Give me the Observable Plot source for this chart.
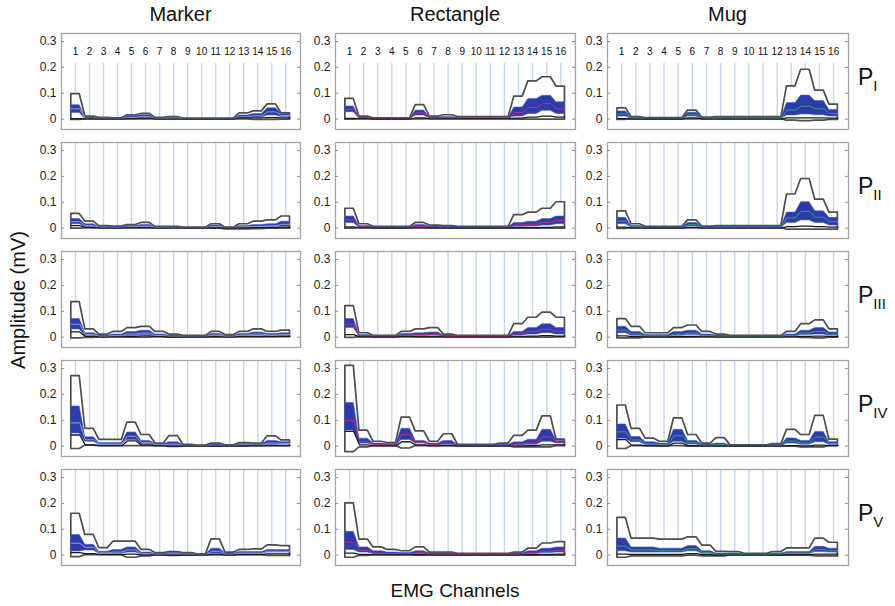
<!DOCTYPE html>
<html><head><meta charset="utf-8">
<script src="https://cdn.jsdelivr.net/npm/d3@7"></script>
<script src="https://cdn.jsdelivr.net/npm/@observablehq/plot@0.6"></script>
<style>
body{margin:0;background:#fff;font-family:"Liberation Sans",Arial,sans-serif;}
#root{position:relative;width:895px;height:606px;overflow:hidden;background:#fff}
.panel{position:absolute}
.t{position:absolute;color:#111;white-space:nowrap;transform:translate(-50%,-50%);line-height:1}
</style></head><body><div id="root"></div>
<script>
const objects = ["Marker", "Rectangle", "Mug"];
const subjects = ["I", "II", "III", "IV", "V"];
const channels = [1,2,3,4,5,6,7,8,9,10,11,12,13,14,15,16];
const yTicks = [0, 0.1, 0.2, 0.3];
const yTickLabels = ["0", "0.1", "0.2", "0.3"];

// ---- Marker ----
const maxMarker = [
 [0.097,0.01,0.005,0.003,0.015,0.02,0.005,0.008,0.002,0.002,0.002,0.002,0.022,0.03,0.057,0.022],
 [0.055,0.025,0.008,0.006,0.012,0.02,0.005,0.005,0.002,0.002,0.015,0.002,0.015,0.025,0.03,0.045],
 [0.135,0.03,0.01,0.02,0.035,0.04,0.02,0.01,0.005,0.005,0.02,0.008,0.02,0.03,0.02,0.025],
 [0.271,0.067,0.024,0.024,0.091,0.043,0.01,0.039,0.005,0.002,0.01,0.003,0.012,0.01,0.038,0.022],
 [0.16,0.078,0.027,0.052,0.052,0.02,0.008,0.012,0.008,0.003,0.061,0.01,0.02,0.022,0.038,0.035]];
const hiMarker = [
 [0.054,0.006,0.003,0.002,0.012,0.015,0.004,0.006,0.001,0.001,0.001,0.001,0.014,0.02,0.042,0.02],
 [0.035,0.015,0.005,0.004,0.008,0.012,0.003,0.003,0.001,0.001,0.01,0.001,0.008,0.012,0.015,0.025],
 [0.07,0.015,0.006,0.01,0.02,0.025,0.01,0.006,0.003,0.003,0.012,0.004,0.012,0.018,0.012,0.015],
 [0.153,0.034,0.012,0.012,0.053,0.02,0.008,0.015,0.003,0.001,0.006,0.002,0.008,0.007,0.02,0.015],
 [0.078,0.04,0.013,0.02,0.03,0.01,0.005,0.008,0.005,0.002,0.025,0.006,0.012,0.012,0.02,0.02]];
const loMarker = [
 [0.024,0.001,0,0,0.003,0.005,0.001,0.002,0,0,0,0,0.004,0.006,0.014,0.008],
 [0.015,0.005,0.001,0.001,0.002,0.004,0.001,0.001,0,0,0.003,0,0.002,0.003,0.004,0.006],
 [0.03,0.005,0.001,0.002,0.005,0.008,0.003,0.001,0,0,0.004,0.001,0.004,0.006,0.004,0.005],
 [0.049,0.017,0.005,0.005,0.024,0.008,0.002,0.002,0,0,0.001,0,0.002,0.002,0.005,0.006],
 [0.014,0.018,0.005,0.005,0.01,0.003,0.001,0.002,0.001,0,0.005,0.001,0.003,0.004,0.01,0.01]];
const meanMarker = [
 [0.04,0.003,0.001,0.001,0.007,0.01,0.002,0.004,0.001,0.001,0.001,0.001,0.009,0.013,0.028,0.014],
 [0.025,0.01,0.003,0.002,0.005,0.008,0.002,0.002,0.001,0.001,0.006,0.001,0.005,0.007,0.009,0.015],
 [0.05,0.01,0.003,0.006,0.012,0.016,0.006,0.003,0.001,0.001,0.008,0.002,0.008,0.012,0.008,0.01],
 [0.09,0.025,0.008,0.008,0.038,0.014,0.005,0.008,0.001,0.001,0.003,0.001,0.005,0.004,0.012,0.01],
 [0.046,0.03,0.009,0.012,0.02,0.006,0.003,0.005,0.003,0.001,0.015,0.003,0.008,0.008,0.015,0.015]];
const lowMarker = [
 [0.002,0.001,0,0,0.002,0.004,0,0,0,0,0,0,0.005,0.005,0.006,0.005],
 [0.01,0.003,0,0,0.001,0.002,0,0,0,0,0.001,0,0.001,0.002,0.002,0.004],
 [0.02,0.003,0,0.001,0.003,0.005,0.002,0,0,0,0.002,0,0.002,0.003,0.002,0.003],
 [0.043,0.005,0.002,0.002,0.02,0.005,0.001,0,0,0,0,0,0.001,0.001,0.002,0.002],
 [0.01,0.006,0.002,0.002,0.004,0.001,0,0,0,0,0.002,0,0.002,0.002,0.005,0.005]];
const minMarker = [
 [-0.003,-0.001,0,0,-0.001,-0.001,0,0,0,0,0,0,-0.001,-0.003,-0.003,-0.002],
 [-0.002,-0.001,0,0,0,-0.001,0,0,0,0,-0.002,-0.005,-0.005,-0.004,-0.002,-0.002],
 [-0.005,-0.003,0,0,-0.002,-0.002,0,-0.002,0,0,-0.001,0,0,-0.001,0,0],
 [-0.011,0.002,0,0,0,0,0,-0.003,0,0,-0.002,0,-0.001,0,0,0],
 [-0.008,0,0,0,-0.01,-0.005,0,-0.003,-0.002,0,0,0,0,0,-0.003,-0.003]];

// ---- Rectangle ----
const maxRectangle = [
 [0.078,0.01,0.003,0.003,0.003,0.054,0.01,0.015,0.008,0.008,0.008,0.008,0.087,0.146,0.162,0.126],
 [0.075,0.015,0.005,0.005,0.005,0.02,0.01,0.008,0.005,0.005,0.005,0.005,0.05,0.06,0.075,0.1],
 [0.12,0.015,0.005,0.005,0.02,0.03,0.035,0.01,0.005,0.005,0.005,0.005,0.05,0.075,0.095,0.075],
 [0.31,0.06,0.017,0.012,0.11,0.057,0.017,0.046,0.005,0.005,0.005,0.01,0.04,0.06,0.115,0.025],
 [0.2,0.06,0.03,0.02,0.015,0.03,0.01,0.01,0.005,0.005,0.005,0.005,0.01,0.025,0.045,0.05]];
const hiRectangle = [
 [0.049,0.006,0.002,0.002,0.002,0.033,0.006,0.008,0.005,0.005,0.005,0.005,0.045,0.078,0.09,0.065],
 [0.045,0.008,0.003,0.003,0.003,0.012,0.006,0.005,0.003,0.003,0.003,0.003,0.02,0.025,0.035,0.045],
 [0.07,0.008,0.003,0.003,0.012,0.015,0.018,0.006,0.003,0.003,0.003,0.003,0.02,0.035,0.05,0.035],
 [0.167,0.029,0.01,0.008,0.067,0.02,0.01,0.02,0.003,0.003,0.003,0.005,0.015,0.025,0.063,0.02],
 [0.09,0.03,0.015,0.01,0.008,0.015,0.006,0.006,0.003,0.003,0.003,0.003,0.006,0.015,0.025,0.03]];
const loRectangle = [
 [0.027,0.001,0,0,0,0.014,0.002,0.003,0.002,0.002,0.002,0.002,0.01,0.02,0.032,0.02],
 [0.02,0.002,0,0,0,0.003,0.001,0.001,0,0,0,0,0.005,0.006,0.01,0.015],
 [0.035,0.002,0,0,0.003,0.004,0.005,0.001,0,0,0,0,0.005,0.01,0.015,0.01],
 [0.06,0.01,0.003,0.002,0.024,0.01,0.003,0.005,0.001,0.001,0.001,0.001,0.003,0.005,0.017,0.01],
 [0.02,0.01,0.004,0.003,0.002,0.004,0.001,0.001,0,0,0,0,0.001,0.004,0.008,0.01]];
const meanRectangle = [
 [0.038,0.003,0.001,0.001,0.001,0.024,0.004,0.005,0.003,0.003,0.003,0.003,0.025,0.045,0.06,0.04],
 [0.032,0.005,0.001,0.001,0.001,0.007,0.003,0.003,0.002,0.002,0.002,0.002,0.012,0.015,0.022,0.03],
 [0.05,0.005,0.001,0.001,0.007,0.009,0.011,0.003,0.002,0.002,0.002,0.002,0.012,0.022,0.03,0.022],
 [0.1,0.018,0.006,0.005,0.045,0.015,0.006,0.012,0.002,0.002,0.002,0.003,0.008,0.013,0.035,0.015],
 [0.05,0.018,0.008,0.006,0.005,0.009,0.003,0.003,0.002,0.002,0.002,0.002,0.003,0.009,0.015,0.018]];
const lowRectangle = [
 [0.003,0.001,0,0,0,0.005,0.001,0.001,0.001,0.001,0.001,0.001,0.004,0.008,0.012,0.008],
 [0.005,0.001,0,0,0,0.001,0,0,0,0,0,0,0.002,0.002,0.003,0.005],
 [0.01,0.001,0,0,0.002,0.002,0.002,0,0,0,0,0,0.002,0.004,0.006,0.004],
 [0.057,0.005,0.001,0.001,0.017,0.005,0.001,0.002,0,0,0,0,0.001,0.002,0.005,0.005],
 [0.008,0.003,0.001,0.001,0.001,0.002,0,0,0,0,0,0,0,0.002,0.003,0.004]];
const minRectangle = [
 [-0.002,0,0,0,0,-0.001,0,0,0,0,0,0,-0.002,-0.002,-0.002,-0.002],
 [-0.002,0,0,0,0,0,0,0,0,0,0,0,-0.002,-0.002,-0.002,-0.002],
 [-0.003,0,0,0,0,-0.001,-0.001,0,0,0,0,0,-0.001,-0.002,-0.002,-0.001],
 [-0.023,-0.005,0,0,-0.009,0,0,0,0,0,0,0,-0.005,-0.005,-0.005,0],
 [-0.01,-0.003,0,0,0,-0.002,0,0,0,0,0,0,0,-0.002,-0.002,-0.002]];

// ---- Mug ----
const maxMug = [
 [0.042,0.008,0.004,0.004,0.004,0.033,0.006,0.008,0.008,0.008,0.008,0.008,0.127,0.191,0.11,0.056],
 [0.065,0.015,0.005,0.005,0.005,0.03,0.006,0.008,0.008,0.008,0.008,0.008,0.13,0.19,0.11,0.06],
 [0.07,0.04,0.015,0.015,0.035,0.045,0.02,0.01,0.005,0.005,0.005,0.005,0.02,0.05,0.065,0.03],
 [0.157,0.067,0.029,0.017,0.107,0.043,0.01,0.031,0.003,0.003,0.003,0.008,0.063,0.043,0.117,0.025],
 [0.144,0.064,0.064,0.06,0.06,0.069,0.037,0.013,0.012,0.005,0.005,0.012,0.026,0.026,0.064,0.048]];
const hiMug = [
 [0.03,0.005,0.002,0.002,0.002,0.025,0.004,0.005,0.005,0.005,0.005,0.005,0.062,0.091,0.07,0.035],
 [0.04,0.008,0.003,0.003,0.003,0.02,0.004,0.005,0.005,0.005,0.005,0.005,0.06,0.1,0.065,0.04],
 [0.04,0.02,0.008,0.008,0.02,0.025,0.01,0.006,0.003,0.003,0.003,0.003,0.01,0.025,0.035,0.018],
 [0.084,0.035,0.015,0.01,0.063,0.02,0.006,0.01,0.002,0.002,0.002,0.004,0.03,0.02,0.055,0.015],
 [0.064,0.03,0.03,0.025,0.025,0.035,0.015,0.006,0.006,0.003,0.003,0.006,0.012,0.012,0.032,0.025]];
const loMug = [
 [0.01,0.001,0,0,0,0.01,0.001,0.001,0.001,0.001,0.001,0.001,0.014,0.018,0.015,0.01],
 [0.015,0.002,0,0,0,0.006,0.001,0.001,0.001,0.001,0.001,0.001,0.02,0.03,0.02,0.01],
 [0.015,0.005,0.002,0.002,0.005,0.008,0.003,0.001,0,0,0,0,0.002,0.008,0.01,0.005],
 [0.029,0.015,0.004,0.002,0.017,0.006,0.001,0.002,0,0,0,0,0.01,0.005,0.015,0.005],
 [0.015,0.01,0.01,0.01,0.01,0.015,0.005,0.001,0.001,0,0,0.001,0.004,0.004,0.012,0.01]];
const meanMug = [
 [0.02,0.003,0.001,0.001,0.001,0.017,0.002,0.003,0.003,0.003,0.003,0.003,0.035,0.05,0.04,0.022],
 [0.027,0.005,0.001,0.001,0.001,0.013,0.002,0.003,0.003,0.003,0.003,0.003,0.04,0.065,0.042,0.025],
 [0.027,0.012,0.005,0.005,0.012,0.016,0.006,0.003,0.002,0.002,0.002,0.002,0.006,0.016,0.022,0.011],
 [0.055,0.024,0.009,0.006,0.04,0.013,0.003,0.006,0.001,0.001,0.001,0.002,0.02,0.012,0.035,0.01],
 [0.035,0.02,0.02,0.017,0.017,0.025,0.01,0.003,0.003,0.002,0.002,0.003,0.008,0.008,0.022,0.017]];
const lowMug = [
 [0.002,0,0,0,0,0.005,0,0,0,0,0,0,0.005,0.005,0.005,0.004],
 [0.004,0,0,0,0,0.002,0,0,0,0,0,0,0.006,0.008,0.006,0.004],
 [0.005,0.002,0,0,0.002,0.003,0.001,0,0,0,0,0,0.001,0.003,0.004,0.002],
 [0.025,0.004,0.001,0,0.012,0.002,0,0,0,0,0,0,0.002,0.001,0.004,0.002],
 [0.004,0.003,0.003,0.003,0.003,0.006,0.002,0,0,0,0,0,0.002,0.002,0.004,0.004]];
const minMug = [
 [-0.003,0,0,0,0,-0.001,0,0,0,0,0,0,-0.006,-0.008,-0.006,-0.003],
 [-0.003,0,0,0,0,0,0,0,0,0,0,0,-0.006,-0.006,-0.006,-0.006],
 [-0.005,-0.005,0,0,-0.002,-0.002,0,0,0,0,0,0,0,-0.003,-0.005,-0.002],
 [-0.011,0,0,0,0,-0.002,0,0,0,0,0,0,-0.002,-0.005,-0.005,0],
 [-0.01,-0.005,-0.005,-0.005,-0.005,-0.002,-0.005,-0.005,0,0,0,-0.002,-0.002,-0.002,-0.005,-0.005]];

const seriesBy = {
  Marker: {max: maxMarker, hi: hiMarker, lo: loMarker, mean: meanMarker, low: lowMarker, min: minMarker},
  Rectangle: {max: maxRectangle, hi: hiRectangle, lo: loRectangle, mean: meanRectangle, low: lowRectangle, min: minRectangle},
  Mug: {max: maxMug, hi: hiMug, lo: loMug, mean: meanMug, low: lowMug, min: minMug}
};
const meanColor = {Marker: "#8fa2c8", Rectangle: "#c0307a", Mug: "#3f9a78"};

const root = document.getElementById("root");
const frameLeft = [61, 335, 607];
const frameWidth = [239, 240, 241];
const frameTop = [33, 142, 251, 360, 469];
const frameH = 96;
const yDomain = [-0.04, 0.331];
const xDomain = [0, 17.05];
const HALF = 0.3; // plateau half-width around each channel

objects.forEach((obj, ci) => {
  subjects.forEach((sub, ri) => {
    const S = seriesBy[obj];
    const rows = channels.flatMap((c, i) => [-HALF, HALF].map(d => ({
      x: c + d, max: S.max[ri][i], hi: S.hi[ri][i], lo: S.lo[ri][i],
      mean: S.mean[ri][i], low: S.low[ri][i], min: S.min[ri][i]
    })));
    const gridTop = ri === 0 ? 0.215 : yDomain[1];
    const marks = [
      Plot.ruleX(channels, {x: d => d, y1: 0, y2: gridTop, stroke: "#c6d5ee", strokeWidth: 1.4}),
      Plot.areaY(rows, {x: "x", y1: "min", y2: "max", fill: "white", stroke: "#4d4d4d", strokeWidth: 1.7, strokeLinejoin: "round"}),
      Plot.areaY(rows, {x: "x", y1: "lo", y2: "hi", fill: "#2c3dab", stroke: "#4660c8", strokeWidth: 0.6}),
      Plot.lineY(rows, {x: "x", y: "mean", stroke: meanColor[obj], strokeWidth: 1}),
      Plot.lineY(rows, {x: "x", y: "low", stroke: "#1b1b1b", strokeWidth: 1.3}),
      Plot.frame({stroke: "#a3a3a3", strokeWidth: 1.3}),
      Plot.ruleY(yTicks, {y: d => d, x1: xDomain[0], x2: xDomain[0] + 0.22, stroke: "#909090"}),
      Plot.ruleY(yTicks, {y: d => d, x1: xDomain[1] - 0.22, x2: xDomain[1], stroke: "#909090"}),
      Plot.axisY({ticks: yTicks, tickSize: 0, tickPadding: 5, fontSize: 12,
                  tickFormat: d => yTickLabels[yTicks.indexOf(d)] ?? String(d)})
    ];
    if (ri === 0) marks.push(Plot.text(channels, {x: d => d, y: 0.262, text: d => String(d), fontSize: 10, fill: "#111"}));
    const svg = Plot.plot({
      width: frameWidth[ci] + 32, height: frameH + 4,
      marginLeft: 30, marginRight: 2, marginTop: 2, marginBottom: 2,
      x: {domain: xDomain, axis: null},
      y: {domain: yDomain},
      style: {fontFamily: "Liberation Sans, Arial, sans-serif", fontSize: "12px", color: "#1a1a1a", background: "transparent"},
      marks
    });
    const div = document.createElement("div");
    div.className = "panel";
    div.style.left = (frameLeft[ci] - 30) + "px";
    div.style.top = (frameTop[ri] - 2) + "px";
    div.appendChild(svg);
    root.appendChild(div);
  });
});

function label(html, x, y, size, rotate) {
  const d = document.createElement("div");
  d.className = "t";
  d.style.left = x + "px";
  d.style.top = y + "px";
  d.style.fontSize = size + "px";
  if (rotate) d.style.transform = "translate(-50%,-50%) rotate(-90deg)";
  d.innerHTML = html;
  root.appendChild(d);
}
objects.forEach((o, ci) => label(o, frameLeft[ci] + frameWidth[ci] / 2, 14, 20));
subjects.forEach((s, ri) => {
  const d = document.createElement("div");
  d.className = "t";
  d.style.transform = "translate(0,-50%)";
  d.style.left = "858px";
  d.style.top = (frameTop[ri] + frameH / 2 - 4) + "px";
  d.style.fontSize = "23px";
  d.innerHTML = `P<span style="font-size:15px;position:relative;top:6px">${s}</span>`;
  root.appendChild(d);
});
label("Amplitude (mV)", 18, 300, 20, true);
label("EMG Channels", 455, 590, 19);
</script></body></html>
